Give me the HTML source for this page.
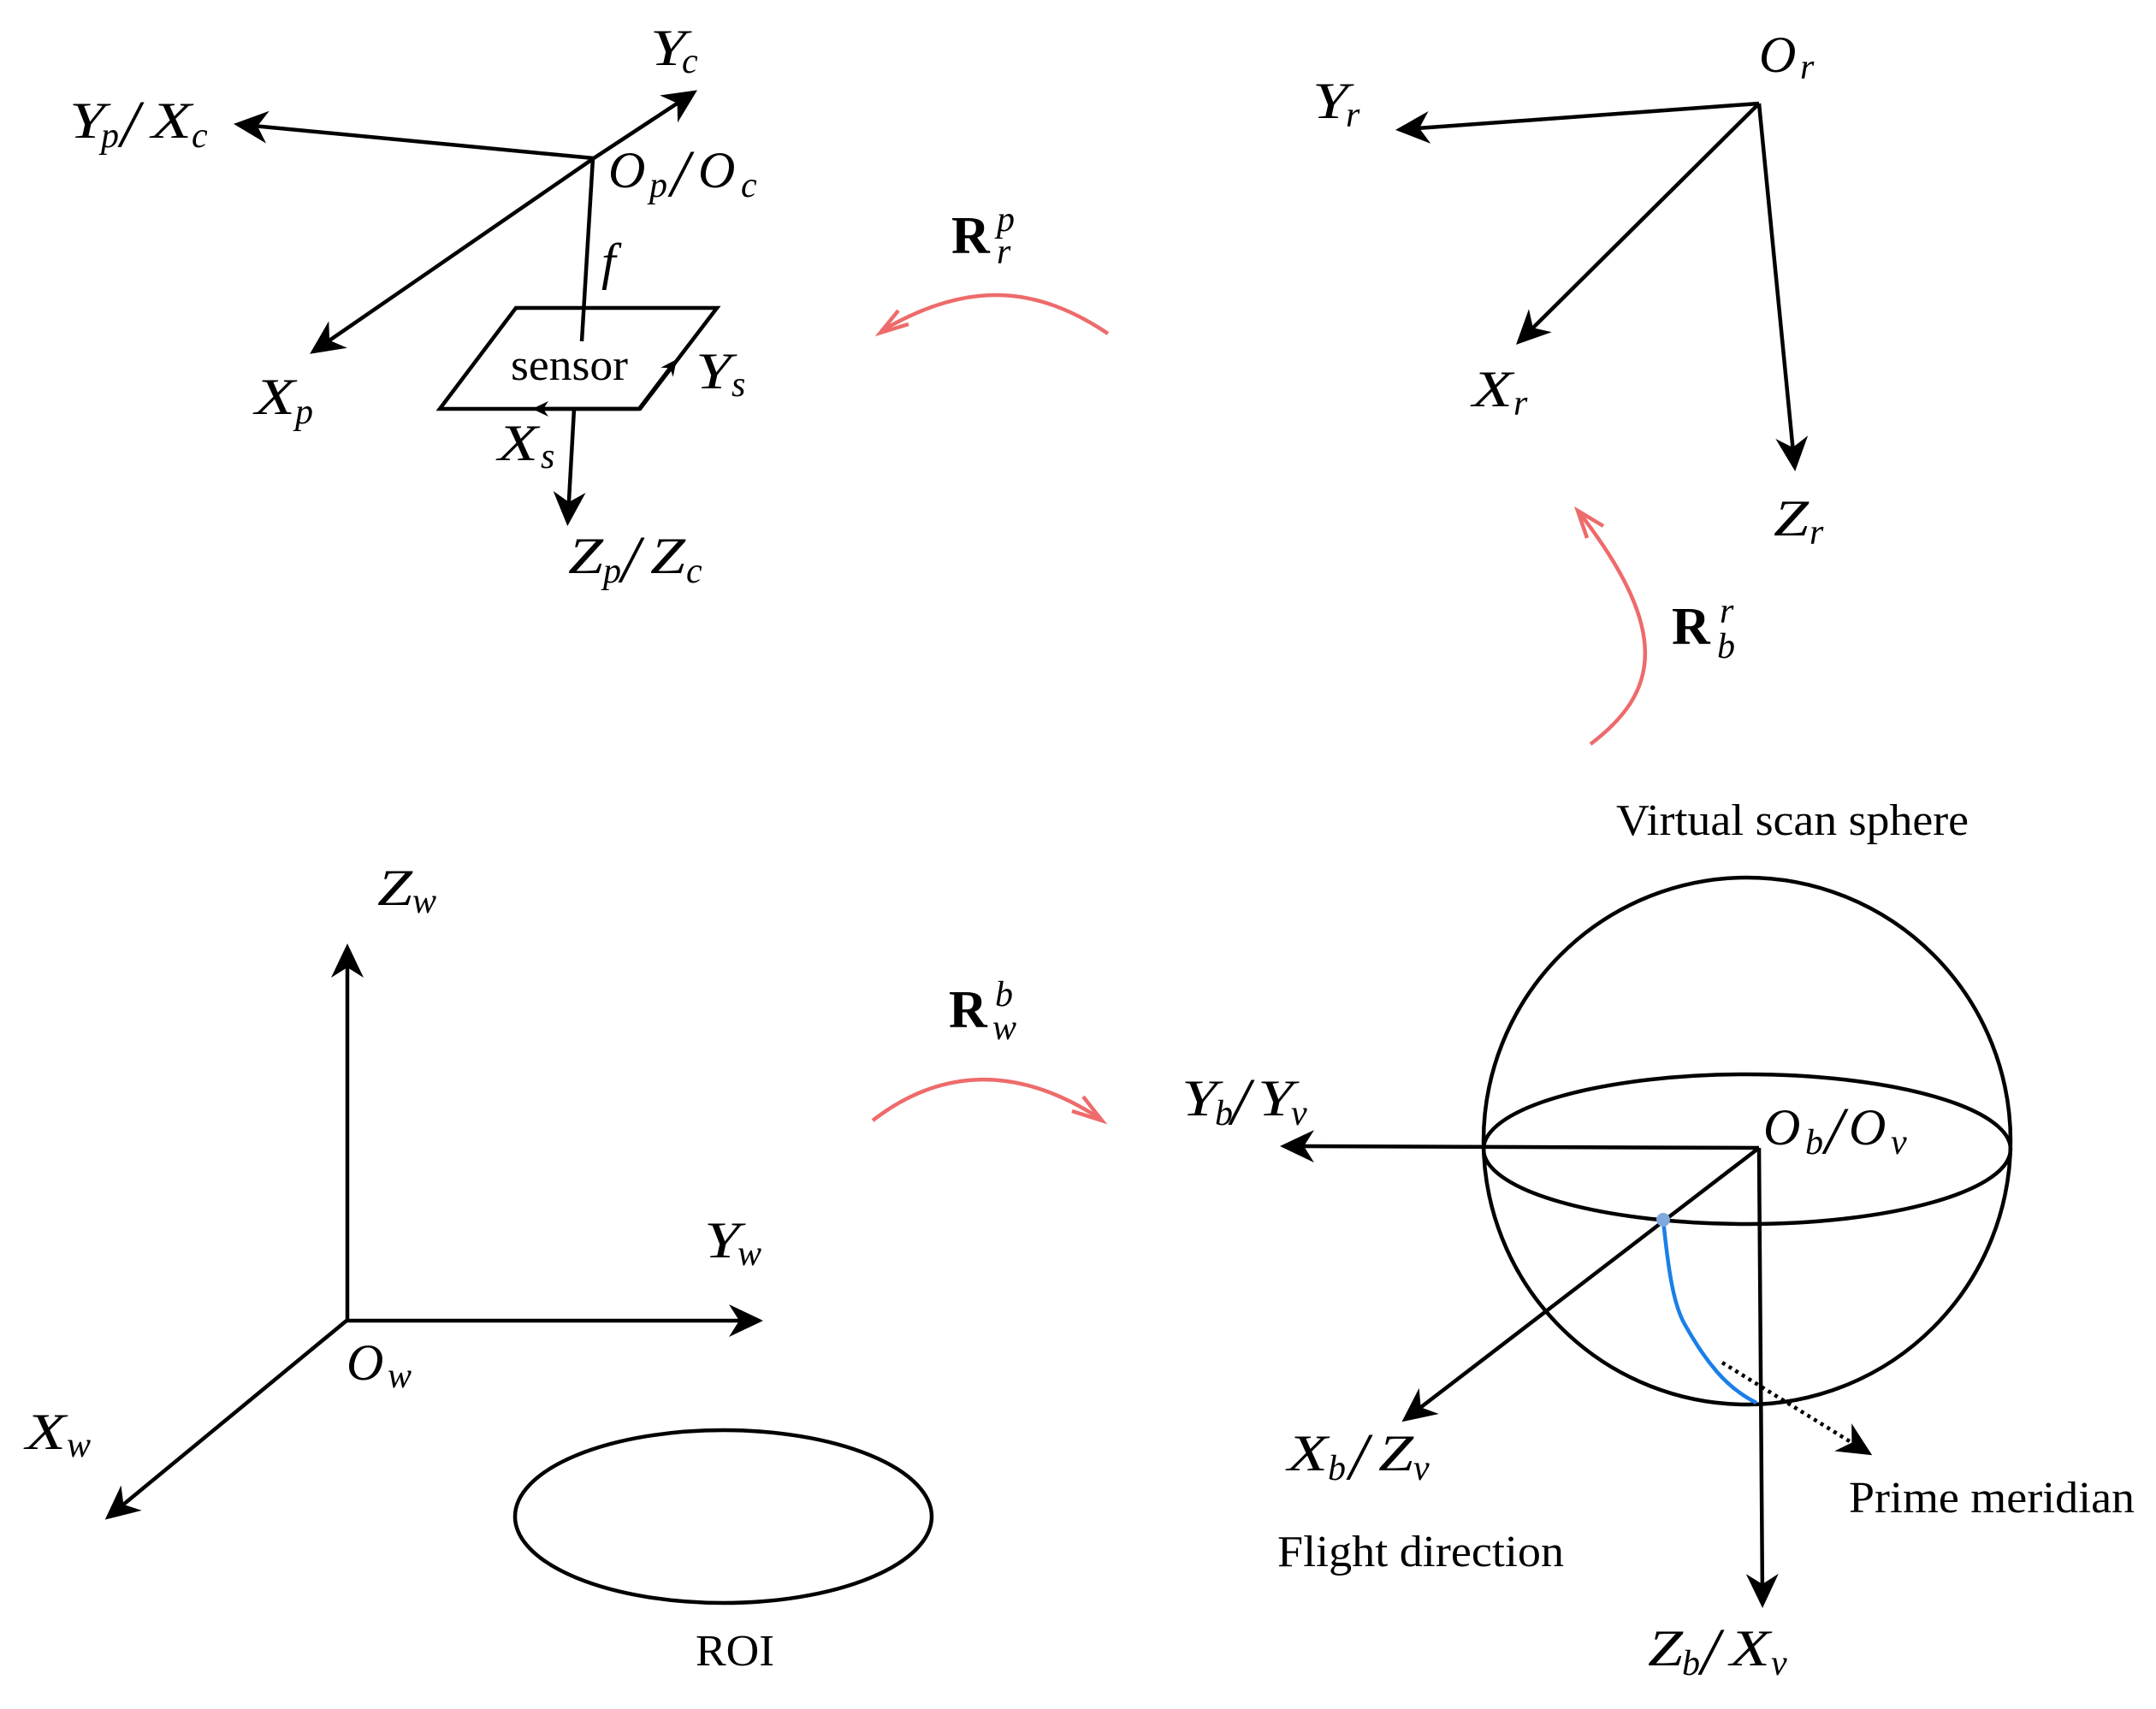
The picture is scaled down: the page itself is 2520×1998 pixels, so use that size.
<!DOCTYPE html>
<html>
<head>
<meta charset="utf-8">
<style>
html,body{margin:0;padding:0;background:#fff;}
svg{display:block;}
text{font-family:"Liberation Serif",serif;fill:#000;}
.m{font-style:italic;font-size:60px;}
.s{font-size:42px;}
.d{font-size:78px;}
.t{font-size:52px;}
.b{font-weight:bold;font-size:62px;}
.sc{font-style:italic;font-size:42px;}
.l{stroke:#000;stroke-width:4.5;fill:none;}
.r{stroke:#ee6b6b;stroke-width:4.5;fill:none;}
</style>
</head>
<body>
<svg width="2520" height="1998" viewBox="0 0 2520 1998" xmlns="http://www.w3.org/2000/svg">
<defs>
<marker id="a" markerUnits="userSpaceOnUse" markerWidth="60" markerHeight="60" viewBox="-45 -30 60 60" refX="-12" refY="0" orient="auto" overflow="visible">
<path d="M0,0 L-40,-19 L-28,0 L-40,19 Z" fill="#000"/>
</marker>
<marker id="as" markerUnits="userSpaceOnUse" markerWidth="30" markerHeight="30" viewBox="-22 -15 30 30" refX="-5" refY="0" orient="auto" overflow="visible">
<path d="M0,0 L-19,-9 L-13,0 L-19,9 Z" fill="#000"/>
</marker>
</defs>

<!-- Top-left frame -->
<line class="l" x1="694" y1="185" x2="805" y2="112" marker-end="url(#a)"/>
<line class="l" x1="694" y1="185" x2="285" y2="146" marker-end="url(#a)"/>
<line class="l" x1="694" y1="185" x2="372" y2="407" marker-end="url(#a)"/>
<line class="l" x1="693" y1="185" x2="680" y2="399"/>
<line class="l" x1="671" y1="478" x2="664" y2="603" marker-end="url(#a)"/>
<path class="l" d="M603,360 L838,360 L748,478 L514,478 Z"/>
<line class="l" x1="747" y1="478" x2="627" y2="478" stroke-width="5.5" marker-end="url(#as)"/>
<line class="l" x1="747" y1="478" x2="788" y2="424" stroke-width="5.5" marker-end="url(#as)"/>

<!-- Top-right frame -->
<line class="l" x1="2056" y1="121" x2="1643" y2="151" marker-end="url(#a)"/>
<line class="l" x1="2056" y1="121" x2="1780.5" y2="394.5" marker-end="url(#a)"/>
<line class="l" x1="2056" y1="121" x2="2097" y2="539" marker-end="url(#a)"/>

<!-- World frame -->
<line class="l" x1="406" y1="1544" x2="406" y2="1115" marker-end="url(#a)"/>
<line class="l" x1="405" y1="1544" x2="880" y2="1544" marker-end="url(#a)"/>
<line class="l" x1="405" y1="1544" x2="132" y2="1769" marker-end="url(#a)"/>
<ellipse class="l" cx="845.5" cy="1773" rx="243.5" ry="101"/>

<!-- Sphere -->
<circle class="l" cx="2042" cy="1334" r="308"/>
<ellipse class="l" cx="2042" cy="1343.5" rx="308" ry="87.5"/>
<line class="l" x1="2056" y1="1342" x2="1508" y2="1340" marker-end="url(#a)"/>
<line class="l" x1="2056" y1="1342" x2="1648" y2="1655" marker-end="url(#a)"/>
<line class="l" x1="2056" y1="1342" x2="2060" y2="1868" marker-end="url(#a)"/>
<line x1="2013" y1="1593" x2="2178" y2="1695" stroke="#000" stroke-width="4.5" stroke-dasharray="4 5" marker-end="url(#a)"/>
<path d="M1944,1426 C1950,1485 1956,1525 1969,1548 C1985,1576 1995,1590 2007,1604 C2020,1619 2035,1631 2053,1640" fill="none" stroke="#1a7fe8" stroke-width="4.5"/>
<circle cx="1944" cy="1426" r="8" fill="#7fa8dc"/>

<!-- Red arrows -->
<path class="r" d="M1295,390 C1210,333 1130,328 1030,387"/>
<path class="r" d="M1050,363 L1029,389 L1062,379"/>
<path class="r" d="M1859,870 C1938,810 1955,740 1845,598"/>
<path class="r" d="M1855,629 L1844,597 L1874,615"/>
<path class="r" d="M1020,1310 C1100,1248 1190,1245 1286,1308"/>
<path class="r" d="M1266,1282 L1288,1310 L1253,1299"/>

<!-- Labels: top-left -->
<text class="m"><tspan x="760" y="76" textLength="42" lengthAdjust="spacingAndGlyphs">Y</tspan><tspan class="s" x="797" y="85">c</tspan></text>
<text class="m"><tspan x="81" y="161" textLength="42" lengthAdjust="spacingAndGlyphs">Y</tspan><tspan class="s" x="118" y="172">p</tspan><tspan class="d" x="141" y="171">/</tspan><tspan x="177" y="161" textLength="47" lengthAdjust="spacingAndGlyphs">X</tspan><tspan class="s" x="224" y="172">c</tspan></text>
<text class="m"><tspan x="711" y="219">O</tspan><tspan class="s" x="759" y="230">p</tspan><tspan class="d" x="784" y="229">/</tspan><tspan x="816" y="219">O</tspan><tspan class="s" x="866" y="230">c</tspan></text>
<text class="m" x="703" y="326">f</text>
<text class="t" x="597" y="444" textLength="137" lengthAdjust="spacingAndGlyphs">sensor</text>
<text class="m"><tspan x="813" y="454" textLength="42" lengthAdjust="spacingAndGlyphs">Y</tspan><tspan class="s" x="855" y="463">s</tspan></text>
<text class="m"><tspan x="298" y="484" textLength="47" lengthAdjust="spacingAndGlyphs">X</tspan><tspan class="s" x="345" y="495">p</tspan></text>
<text class="m"><tspan x="582" y="538" textLength="47" lengthAdjust="spacingAndGlyphs">X</tspan><tspan class="s" x="632" y="547">s</tspan></text>
<text class="m"><tspan x="664" y="670" textLength="41" lengthAdjust="spacingAndGlyphs">Z</tspan><tspan class="s" x="705" y="681">p</tspan><tspan class="d" x="726" y="680">/</tspan><tspan x="760" y="670" textLength="41" lengthAdjust="spacingAndGlyphs">Z</tspan><tspan class="s" x="802" y="681">c</tspan></text>

<!-- Labels: top-right -->
<text class="m"><tspan x="1534" y="138" textLength="42" lengthAdjust="spacingAndGlyphs">Y</tspan><tspan class="s" x="1573" y="148">r</tspan></text>
<text class="m"><tspan x="2056" y="84">O</tspan><tspan class="s" x="2104" y="92">r</tspan></text>
<text class="m"><tspan x="1721" y="475" textLength="47" lengthAdjust="spacingAndGlyphs">X</tspan><tspan class="s" x="1769" y="485">r</tspan></text>
<text class="m"><tspan x="2073" y="626" textLength="41" lengthAdjust="spacingAndGlyphs">Z</tspan><tspan class="s" x="2115" y="636">r</tspan></text>

<!-- Rotation labels -->
<text class="b" x="1112" y="296">R</text>
<text class="sc" x="1165" y="270">p</text>
<text class="sc" x="1165" y="308">r</text>
<text class="b" x="1954" y="753">R</text>
<text class="sc" x="2010" y="728">r</text>
<text class="sc" x="2007" y="769">b</text>
<text class="b" x="1109" y="1201">R</text>
<text class="sc" x="1163" y="1176">b</text>
<text class="sc" x="1160" y="1215">w</text>

<!-- Labels: world -->
<text class="m"><tspan x="441" y="1058" textLength="41" lengthAdjust="spacingAndGlyphs">Z</tspan><tspan class="s" x="482" y="1067">w</tspan></text>
<text class="m"><tspan x="823" y="1470" textLength="42" lengthAdjust="spacingAndGlyphs">Y</tspan><tspan class="s" x="862" y="1479">w</tspan></text>
<text class="m"><tspan x="405" y="1613">O</tspan><tspan class="s" x="453" y="1622">w</tspan></text>
<text class="m"><tspan x="30" y="1694" textLength="47" lengthAdjust="spacingAndGlyphs">X</tspan><tspan class="s" x="78" y="1703">w</tspan></text>
<text class="t" x="813" y="1947" textLength="92" lengthAdjust="spacingAndGlyphs">ROI</text>

<!-- Labels: sphere -->
<text class="t" x="1889" y="976" textLength="412" lengthAdjust="spacingAndGlyphs">Virtual scan sphere</text>
<text class="m"><tspan x="1381" y="1304" textLength="42" lengthAdjust="spacingAndGlyphs">Y</tspan><tspan class="s" x="1420" y="1315">b</tspan><tspan class="d" x="1439" y="1314">/</tspan><tspan x="1470" y="1304" textLength="42" lengthAdjust="spacingAndGlyphs">Y</tspan><tspan class="s" x="1509" y="1315">v</tspan></text>
<text class="m"><tspan x="2061" y="1338">O</tspan><tspan class="s" x="2110" y="1349">b</tspan><tspan class="d" x="2133" y="1348">/</tspan><tspan x="2161" y="1338">O</tspan><tspan class="s" x="2210" y="1349">v</tspan></text>
<text class="m"><tspan x="1505" y="1719" textLength="47" lengthAdjust="spacingAndGlyphs">X</tspan><tspan class="s" x="1552" y="1730">b</tspan><tspan class="d" x="1577" y="1729">/</tspan><tspan x="1611" y="1719" textLength="41" lengthAdjust="spacingAndGlyphs">Z</tspan><tspan class="s" x="1652" y="1730">v</tspan></text>
<text class="m"><tspan x="1926" y="1947" textLength="41" lengthAdjust="spacingAndGlyphs">Z</tspan><tspan class="s" x="1966" y="1958">b</tspan><tspan class="d" x="1988" y="1957">/</tspan><tspan x="2022" y="1947" textLength="47" lengthAdjust="spacingAndGlyphs">X</tspan><tspan class="s" x="2070" y="1958">v</tspan></text>
<text class="t" x="2161" y="1768" textLength="334" lengthAdjust="spacingAndGlyphs">Prime meridian</text>
<text class="t" x="1493" y="1831" textLength="335" lengthAdjust="spacingAndGlyphs">Flight direction</text>
</svg>
</body>
</html>
